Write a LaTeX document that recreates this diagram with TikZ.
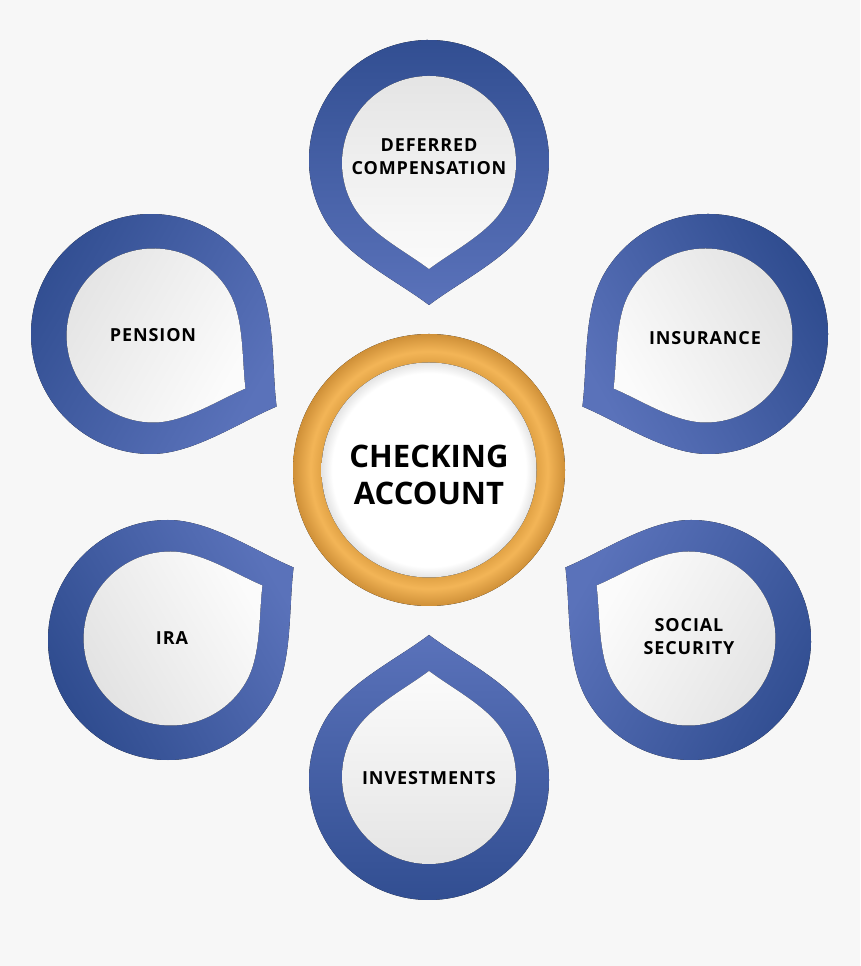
\documentclass[tikz,border=0pt]{standalone}
\usepackage{fontspec}
\setmainfont{Open Sans}
\definecolor{bg}{HTML}{F7F7F7}
\definecolor{bdark}{HTML}{2F4C8F}
\definecolor{blight}{HTML}{5A72BA}
\definecolor{gdark}{HTML}{E3E3E3}
\definecolor{glight}{HTML}{FBFBFB}
\definecolor{oin}{HTML}{DFA043}
\definecolor{omid}{HTML}{F3B557}
\definecolor{oout}{HTML}{CF9038}
\definecolor{wedge}{HTML}{E4E4E4}
\pgfdeclareradialshading{orangering}{\pgfpoint{0bp}{0bp}}{color(0bp)=(oin); color(19.5bp)=(oin); color(21.8bp)=(omid); color(25bp)=(oout); color(50bp)=(oout)}
\pgfdeclareradialshading{whitecore}{\pgfpoint{0bp}{0bp}}{color(0bp)=(white); color(22.5bp)=(white); color(25bp)=(wedge); color(50bp)=(wedge)}
% teardrop: radius #1, tip distance #2, tip pointing down
\newcommand{\droppath}[2]{(0,-#2) .. controls ({0.28*#1},{-#2+0.211*#1}) and ({0.691*#1},{-0.803*#1}) .. ({0.866*#1},{-0.5*#1}) arc[start angle=-30, end angle=210, radius=#1] .. controls ({-0.691*#1},{-0.803*#1}) and ({-0.28*#1},{-#2+0.211*#1}) .. (0,-#2) -- cycle}
\newcommand{\petal}[2]{% position, rotation
  \begin{scope}[shift={#1}, rotate=#2]
    \fill[top color=bdark, bottom color=blight, shading angle=#2] \droppath{120}{145};
    \fill[top color=gdark, bottom color=glight, shading angle=#2] [shift={(0,-3)}] \droppath{87}{106};
  \end{scope}}
\tikzset{
  lbl/.style={font=\fontsize{18}{23}\selectfont\bfseries\addfontfeature{LetterSpace=5}, align=center, text=black, inner sep=0pt},
  biglbl/.style={font=\fontsize{31}{37}\selectfont\bfseries, align=center, text=black, inner sep=0pt},
}
\begin{document}
\begin{tikzpicture}[x=1pt,y=1pt]
\useasboundingbox (0,0) rectangle (860,966);
\fill[bg] (0,0) rectangle (860,966);
\petal{(429,806)}{0}
\petal{(429,186)}{180}
\petal{(151,632)}{60}
\petal{(708,632)}{-60}
\petal{(168,326)}{120}
\petal{(691,326)}{-120}
\fill[shading=orangering] (429,496) circle (136);
\fill[shading=whitecore] (429,496) circle (107.5);
\node[biglbl] (chk) at (429,491) {CHECKING\\ACCOUNT};
\node[lbl] (def) at (429,809) {DEFERRED\\COMPENSATION};
\node[lbl] (pen) at (153,631) {PENSION};
\node[lbl] (ins) at (705,628) {INSURANCE};
\node[lbl] (ira) at (172,328) {IRA};
\node[lbl] (soc) at (689,329) {SOCIAL\\SECURITY};
\node[lbl] (inv) at (429,188) {INVESTMENTS};
\end{tikzpicture}
\end{document}
